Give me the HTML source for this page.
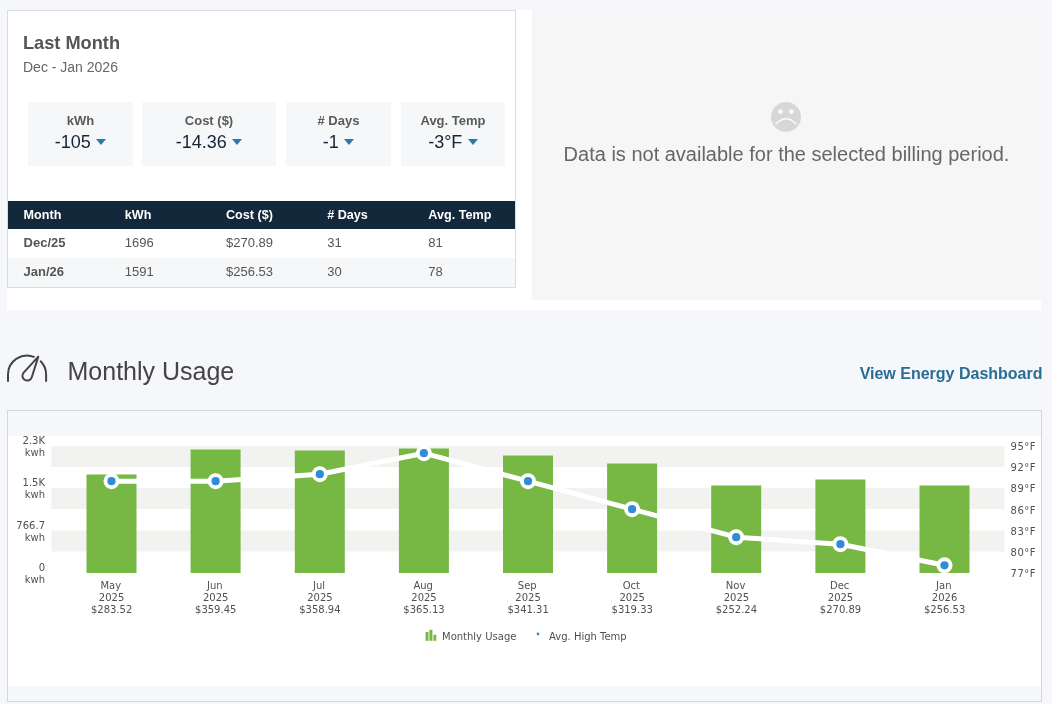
<!DOCTYPE html>
<html lang="en"><head><meta charset="utf-8"><title>Monthly Usage</title>
<style>
*{box-sizing:border-box;margin:0;padding:0}
html,body{width:1052px;height:704px;overflow:hidden}
body{background:#f5f7fa;font-family:"Liberation Sans",Arial,sans-serif;color:#555;position:relative}
.abs{position:absolute}
.wrap{left:7px;top:10px;width:1034px;height:300px;background:#fff}
.card{left:7px;top:10px;width:509px;height:278px;background:#fff;border:1px solid #d9dbdd}
.h1{left:23px;top:32.3px;font-size:18.2px;font-weight:bold;color:#555;line-height:22px;white-space:nowrap}
.sub{left:23px;top:59px;font-size:14px;color:#666;line-height:16px;white-space:nowrap}
.stat{top:102px;height:63.5px;border-radius:1px;background:#f5f7f9;text-align:center}
.stat .l{font-size:13px;font-weight:bold;color:#5a5a5a;line-height:16px;margin-top:11px;white-space:nowrap}
.stat .v{font-size:18px;color:#152536;line-height:22px;margin-top:2px;white-space:nowrap}
.stat .v i{display:inline-block;width:0;height:0;border-left:5.75px solid transparent;border-right:5.75px solid transparent;border-top:6.5px solid #2b79ae;margin-left:5.5px;vertical-align:middle;position:relative;top:-1px}
table{position:absolute;left:8px;top:201px;width:507px;border-collapse:collapse;table-layout:fixed;font-size:13px}
th{background:#13283b;color:#fff;text-align:left;font-weight:bold;height:28px;padding:0 0 1px 15.6px;font-size:12.6px}
th:nth-child(-n+4){width:101.2px}
td{height:29px;padding:0 0 2px 15.6px;color:#555}
td.b{font-weight:bold}
tr.alt td{background:#f5f7f9}
.nodata{left:532px;top:10px;width:509px;height:290px;background:#f6f6f6}
.msg{left:532px;top:142px;width:509px;text-align:center;font-size:20px;color:#666;line-height:24px;white-space:nowrap}
.title{left:67.5px;top:357px;font-size:25px;color:#444;line-height:28px;white-space:nowrap}
.link{right:9.5px;top:364.5px;font-size:16px;font-weight:bold;color:#2a6c95;line-height:18px;white-space:nowrap}
.ccard{left:7px;top:410px;width:1035px;height:292px;background:#f5f7fa;border:1px solid #d3d6da}
.chart{position:absolute;left:0;top:410px}
</style></head><body>
<div class="abs wrap"></div>
<div class="abs card"></div>
<div class="abs h1">Last Month</div>
<div class="abs sub">Dec - Jan 2026</div>
<div class="abs stat" style="left:28px;width:105px"><div class="l">kWh</div><div class="v">-105<i></i></div></div>
<div class="abs stat" style="left:142px;width:134px"><div class="l">Cost ($)</div><div class="v">-14.36<i></i></div></div>
<div class="abs stat" style="left:286px;width:105px"><div class="l"># Days</div><div class="v">-1<i></i></div></div>
<div class="abs stat" style="left:401px;width:104px"><div class="l">Avg. Temp</div><div class="v">-3°F<i></i></div></div>
<table>
<tr><th>Month</th><th>kWh</th><th>Cost ($)</th><th># Days</th><th>Avg. Temp</th></tr>
<tr><td class="b">Dec/25</td><td>1696</td><td>$270.89</td><td>31</td><td>81</td></tr>
<tr class="alt"><td class="b">Jan/26</td><td>1591</td><td>$256.53</td><td>30</td><td>78</td></tr>
</table>
<div class="abs nodata"></div>
<svg class="abs" style="left:771px;top:102px" width="30" height="30" viewBox="0 0 30 30"><circle cx="15" cy="15" r="15" fill="#d7d7d7"/><circle cx="9.4" cy="9.6" r="2.4" fill="#fafafa"/><circle cx="20.4" cy="9.6" r="2.4" fill="#fafafa"/><path d="M5.2 21.6 Q15 11.8 24.8 21.6" fill="none" stroke="#fafafa" stroke-width="1.6" stroke-linecap="round"/></svg>
<div class="abs msg">Data is not available for the selected billing period.</div>
<svg class="abs" style="left:0;top:345px" width="60" height="45" viewBox="0 345 60 45" fill="none" stroke="#444" stroke-width="2" stroke-linejoin="round"><path d="M8 381.8 V374.6 A19.05 19.05 0 0 1 34.6 357.1"/><path d="M40.2 360.8 A19.05 19.05 0 0 1 46.1 374.6 V381.8"/><path d="M38.3 356.6 L23.66 372.56 A4.8 4.8 0 1 0 31.78 377.25 Z"/></svg>
<div class="abs title">Monthly Usage</div>
<div class="abs link">View Energy Dashboard</div>
<div class="abs ccard"></div>
<svg class="chart" width="1052" height="294" viewBox="0 410 1052 294" font-family="'DejaVu Sans', Verdana, sans-serif" font-size="10" fill="#505050">
<rect x="8" y="436" width="1033" height="250" fill="#ffffff"/>
<rect x="51.3" y="446" width="953.2" height="21" fill="#f2f2f0"/>
<rect x="51.3" y="488" width="953.2" height="21" fill="#f2f2f0"/>
<rect x="51.3" y="530.5" width="953.2" height="21" fill="#f2f2f0"/>
<rect x="86.5" y="474.5" width="50" height="98.5" fill="#76b843"/>
<rect x="190.6" y="449.5" width="50" height="123.5" fill="#76b843"/>
<rect x="294.8" y="450.5" width="50" height="122.5" fill="#76b843"/>
<rect x="398.9" y="448.5" width="50" height="124.5" fill="#76b843"/>
<rect x="503.0" y="455.5" width="50" height="117.5" fill="#76b843"/>
<rect x="607.1" y="463.5" width="50" height="109.5" fill="#76b843"/>
<rect x="711.2" y="485.5" width="50" height="87.5" fill="#76b843"/>
<rect x="815.4" y="479.5" width="50" height="93.5" fill="#76b843"/>
<rect x="919.5" y="485.5" width="50" height="87.5" fill="#76b843"/>
<polyline fill="none" stroke="#ffffff" stroke-width="5" stroke-linejoin="round" points="111.5,481.2 215.6,481.2 319.8,474.2 423.9,453.2 528.0,481.2 632.1,509.2 736.2,537.2 840.4,544.2 944.5,565.3"/>
<circle cx="111.5" cy="481.2" r="8" fill="#ffffff"/><circle cx="111.5" cy="481.2" r="4.1" fill="#2f8dd6"/>
<circle cx="215.6" cy="481.2" r="8" fill="#ffffff"/><circle cx="215.6" cy="481.2" r="4.1" fill="#2f8dd6"/>
<circle cx="319.8" cy="474.2" r="8" fill="#ffffff"/><circle cx="319.8" cy="474.2" r="4.1" fill="#2f8dd6"/>
<circle cx="423.9" cy="453.2" r="8" fill="#ffffff"/><circle cx="423.9" cy="453.2" r="4.1" fill="#2f8dd6"/>
<circle cx="528.0" cy="481.2" r="8" fill="#ffffff"/><circle cx="528.0" cy="481.2" r="4.1" fill="#2f8dd6"/>
<circle cx="632.1" cy="509.2" r="8" fill="#ffffff"/><circle cx="632.1" cy="509.2" r="4.1" fill="#2f8dd6"/>
<circle cx="736.2" cy="537.2" r="8" fill="#ffffff"/><circle cx="736.2" cy="537.2" r="4.1" fill="#2f8dd6"/>
<circle cx="840.4" cy="544.2" r="8" fill="#ffffff"/><circle cx="840.4" cy="544.2" r="4.1" fill="#2f8dd6"/>
<circle cx="944.5" cy="565.3" r="8" fill="#ffffff"/><circle cx="944.5" cy="565.3" r="4.1" fill="#2f8dd6"/>
<text text-anchor="middle" x="110.8" y="589.2">May</text>
<text text-anchor="middle" x="111.6" y="601.2">2025</text>
<text text-anchor="middle" x="111.6" y="613.2">$283.52</text>
<text text-anchor="middle" x="214.9" y="589.2">Jun</text>
<text text-anchor="middle" x="215.7" y="601.2">2025</text>
<text text-anchor="middle" x="215.7" y="613.2">$359.45</text>
<text text-anchor="middle" x="319.1" y="589.2">Jul</text>
<text text-anchor="middle" x="319.9" y="601.2">2025</text>
<text text-anchor="middle" x="319.9" y="613.2">$358.94</text>
<text text-anchor="middle" x="423.2" y="589.2">Aug</text>
<text text-anchor="middle" x="424.0" y="601.2">2025</text>
<text text-anchor="middle" x="424.0" y="613.2">$365.13</text>
<text text-anchor="middle" x="527.3" y="589.2">Sep</text>
<text text-anchor="middle" x="528.1" y="601.2">2025</text>
<text text-anchor="middle" x="528.1" y="613.2">$341.31</text>
<text text-anchor="middle" x="631.4" y="589.2">Oct</text>
<text text-anchor="middle" x="632.2" y="601.2">2025</text>
<text text-anchor="middle" x="632.2" y="613.2">$319.33</text>
<text text-anchor="middle" x="735.6" y="589.2">Nov</text>
<text text-anchor="middle" x="736.4" y="601.2">2025</text>
<text text-anchor="middle" x="736.4" y="613.2">$252.24</text>
<text text-anchor="middle" x="839.7" y="589.2">Dec</text>
<text text-anchor="middle" x="840.5" y="601.2">2025</text>
<text text-anchor="middle" x="840.5" y="613.2">$270.89</text>
<text text-anchor="middle" x="943.8" y="589.2">Jan</text>
<text text-anchor="middle" x="944.6" y="601.2">2026</text>
<text text-anchor="middle" x="944.6" y="613.2">$256.53</text>
<text text-anchor="end" x="45" y="443.9">2.3K</text>
<text text-anchor="end" x="45" y="456.0">kwh</text>
<text text-anchor="end" x="45" y="486.2">1.5K</text>
<text text-anchor="end" x="45" y="498.3">kwh</text>
<text text-anchor="end" x="45" y="528.6">766.7</text>
<text text-anchor="end" x="45" y="540.7">kwh</text>
<text text-anchor="end" x="45" y="570.9">0</text>
<text text-anchor="end" x="45" y="583.0">kwh</text>
<text x="1010.6" y="449.7" letter-spacing="0.5">95°F</text>
<text x="1010.6" y="470.7" letter-spacing="0.5">92°F</text>
<text x="1010.6" y="491.7" letter-spacing="0.5">89°F</text>
<text x="1010.6" y="513.7" letter-spacing="0.5">86°F</text>
<text x="1010.6" y="534.7" letter-spacing="0.5">83°F</text>
<text x="1010.6" y="555.7" letter-spacing="0.5">80°F</text>
<text x="1010.6" y="576.7" letter-spacing="0.5">77°F</text>
<g fill="#76b843"><rect x="425.6" y="632" width="2.9" height="8.8"/><rect x="429.4" y="629.8" width="3" height="11"/><rect x="433.4" y="634.8" width="2.9" height="6"/></g>
<text x="442" y="640">Monthly Usage</text>
<circle cx="538" cy="634" r="1.4" fill="#2f8dd6"/>
<text x="549" y="640">Avg. High Temp</text>
</svg>
</body></html>
